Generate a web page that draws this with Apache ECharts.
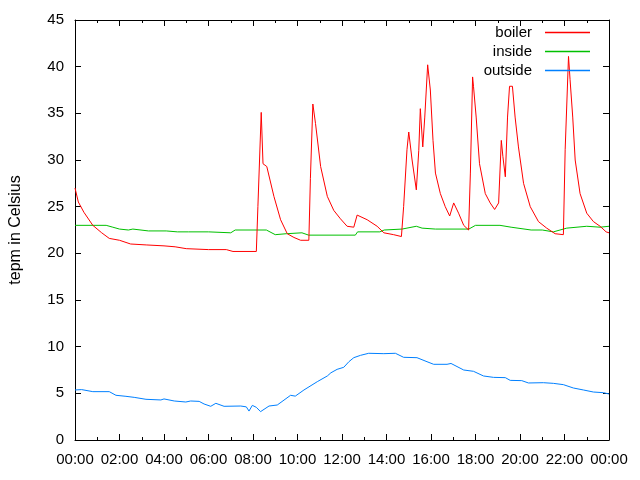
<!DOCTYPE html>
<html>
<head>
<meta charset="utf-8">
<script src="https://cdn.jsdelivr.net/npm/echarts@6/dist/echarts.min.js"></script>
<style>
  html, body { margin: 0; padding: 0; background: #fff; }
  #chart { width: 640px; height: 480px; }
</style>
</head>
<body>
<div id="chart"></div>
<script>
// hours since midnight and temperatures
const boilerHours = [0, 0.15, 0.4, 0.8, 1.2, 1.54, 2.0, 2.5, 3.2, 4.0, 4.5, 5.0, 6.0, 6.8, 7.1, 8.15,
  8.22, 8.37, 8.45, 8.62, 8.94, 9.24, 9.54, 9.84, 10.14, 10.51, 10.58, 10.69, 10.81, 11.04, 11.34,
  11.63, 11.93, 12.23, 12.53, 12.68, 13.13, 13.58, 13.88, 14.32, 14.67, 14.77, 14.92, 15.0, 15.15,
  15.34, 15.45, 15.52, 15.63, 15.72, 15.85, 15.97, 16.09, 16.2, 16.42, 16.64, 16.84, 17.02, 17.24,
  17.47, 17.69, 17.77, 17.87, 17.91, 18.03, 18.18, 18.44, 18.66, 18.86, 19.04, 19.16, 19.23, 19.34,
  19.44, 19.53, 19.66, 19.78, 19.93, 20.16, 20.46, 20.83, 21.2, 21.58, 21.95, 22.03, 22.18, 22.25,
  22.37, 22.48, 22.7, 23.0, 23.3, 23.6, 23.87, 24.0]
const boilerTemps = [27.0, 25.5, 24.4, 23.0, 22.2, 21.6, 21.4, 21.0, 20.9, 20.8, 20.7, 20.5, 20.4, 20.4, 20.2, 20.2,
  25.0, 35.1, 29.6, 29.3, 26.1, 23.6, 22.1, 21.7, 21.4, 21.4, 28.0, 36.0, 33.9, 29.3, 26.1,
  24.6, 23.7, 22.9, 22.8, 24.1, 23.6, 22.9, 22.2, 22.0, 21.8, 25.0, 31.1, 33.0, 30.0,
  26.8, 31.0, 35.5, 31.4, 34.6, 40.2, 37.5, 32.1, 28.6, 26.4, 25.0, 24.0, 25.4, 24.3,
  23.0, 22.5, 28.6, 38.9, 37.9, 34.6, 29.6, 26.4, 25.4, 24.7, 25.4, 32.1, 30.4, 28.2,
  34.6, 37.9, 37.9, 34.6, 31.4, 27.5, 25.0, 23.4, 22.7, 22.1, 22.0, 31.1, 41.1, 38.6,
  34.6, 30.0, 26.4, 24.3, 23.4, 22.9, 22.3, 22.2]

const insideHours = [0, 1.4, 1.7, 2.0, 2.4, 2.6, 3.3, 4.1, 4.6, 5.1, 6.0, 7.0, 7.2, 8.6, 9.0, 9.5,
  10.2, 10.5, 12.6, 12.7, 13.7, 13.9, 14.7, 15.34, 15.6, 16.2, 17.7, 18.0, 19.1, 19.6, 20.5, 21.0,
  21.5, 22.1, 23.0, 23.6, 24.0]
const insideTemps = [23.0, 23.0, 22.8, 22.6, 22.5, 22.6, 22.4, 22.4, 22.3, 22.3, 22.3, 22.2, 22.5, 22.5, 22.0, 22.1,
  22.2, 21.95, 21.95, 22.3, 22.3, 22.5, 22.6, 22.9, 22.7, 22.6, 22.6, 23.0, 23.0, 22.8, 22.5, 22.5,
  22.3, 22.7, 22.9, 22.8, 22.9]

const outsideHours = [0, 0.3, 0.8, 1.54, 1.84, 2.29, 2.66, 3.19, 3.86, 4.0, 4.46, 4.98, 5.2, 5.58, 5.8, 6.1,
  6.33, 6.7, 7.45, 7.7, 7.82, 7.97, 8.15, 8.34, 8.72, 9.09, 9.69, 9.9, 10.29, 10.89, 11.34, 11.5,
  11.78, 12.08, 12.31, 12.53, 12.83, 13.2, 13.88, 14.4, 14.77, 15.37, 15.82, 16.12, 16.72, 16.9,
  17.47, 17.91, 18.36, 18.81, 19.34, 19.56, 20.08, 20.38, 21.05, 21.5, 21.95, 22.4, 22.85, 23.3,
  23.75, 24.0]
const outsideTemps = [5.36, 5.4, 5.18, 5.18, 4.79, 4.68, 4.57, 4.36, 4.29, 4.4, 4.18, 4.07, 4.18, 4.14, 3.86, 3.61,
  3.93, 3.61, 3.64, 3.55, 3.1, 3.71, 3.5, 3.04, 3.64, 3.75, 4.79, 4.7, 5.36, 6.25, 6.86, 7.2,
  7.57, 7.79, 8.39, 8.82, 9.07, 9.29, 9.25, 9.29, 8.86, 8.82, 8.39, 8.11, 8.11, 8.2,
  7.5, 7.36, 6.86, 6.71, 6.68, 6.39, 6.36, 6.11, 6.14, 6.07, 5.93, 5.57, 5.36, 5.14,
  5.07, 4.93]

const seriesNames = ['boiler', 'inside', 'outside']
const seriesColors = ['#ff0000', '#00c000', '#0080ff']

const FONT = 'Liberation Sans'

function pairs(xs, ys) {
  return xs.map((x, i) => [x, ys[i]])
}

function hourLabel(v) {
  const h = Math.round(v) % 24
  return (h < 10 ? '0' : '') + h + ':00'
}

const chart = echarts.init(document.getElementById('chart'))

const boxAxis = {
  axisLine: { show: true, onZero: false, lineStyle: { color: '#000', width: 1 } },
  axisTick: { show: true, inside: true, length: 6, lineStyle: { color: '#000' } },
  splitLine: { show: false }
}

chart.setOption({
  animation: false,
  backgroundColor: '#fff',
  textStyle: { fontFamily: FONT },
  grid: { left: 74, right: 31, top: 20, bottom: 40 },
  legend: {
    data: seriesNames,
    orient: 'vertical',
    right: 45,
    top: 20,
    align: 'right',
    icon: 'rect',
    itemWidth: 45,
    itemHeight: 1.5,
    itemGap: 4,
    textStyle: { fontFamily: FONT, fontSize: 15, color: '#000', padding: [0, 8, 0, 0] }
  },
  xAxis: [{
    type: 'value',
    min: 0,
    max: 24,
    interval: 2,
    ...boxAxis,
    minorTick: { show: true, splitNumber: 2, length: 3, lineStyle: { color: '#000' } },
    axisLabel: { formatter: hourLabel, color: '#000', fontSize: 15, fontFamily: FONT, margin: 12 }
  }, {
    type: 'value',
    position: 'top',
    min: 0,
    max: 24,
    interval: 2,
    ...boxAxis,
    minorTick: { show: true, splitNumber: 2, length: 3, lineStyle: { color: '#000' } },
    axisLabel: { show: false }
  }],
  yAxis: [{
    type: 'value',
    min: 0,
    max: 45,
    interval: 5,
    ...boxAxis,
    name: 'tepm in Celsius',
    nameLocation: 'middle',
    nameRotate: 90,
    nameGap: 51,
    nameTextStyle: { color: '#000', fontSize: 16, fontFamily: FONT },
    axisLabel: { color: '#000', fontSize: 15, fontFamily: FONT, margin: 11 }
  }, {
    type: 'value',
    position: 'right',
    min: 0,
    max: 45,
    interval: 5,
    ...boxAxis,
    axisLabel: { show: false }
  }],
  series: [
    { name: seriesNames[0], type: 'line', data: pairs(boilerHours, boilerTemps) },
    { name: seriesNames[1], type: 'line', data: pairs(insideHours, insideTemps) },
    { name: seriesNames[2], type: 'line', data: pairs(outsideHours, outsideTemps) }
  ].map((s, i) => Object.assign(s, {
    showSymbol: false,
    symbol: 'none',
    color: seriesColors[i],
    lineStyle: { color: seriesColors[i], width: 1 },
    z: 3 - i
  }))
})
</script>
</body>
</html>
